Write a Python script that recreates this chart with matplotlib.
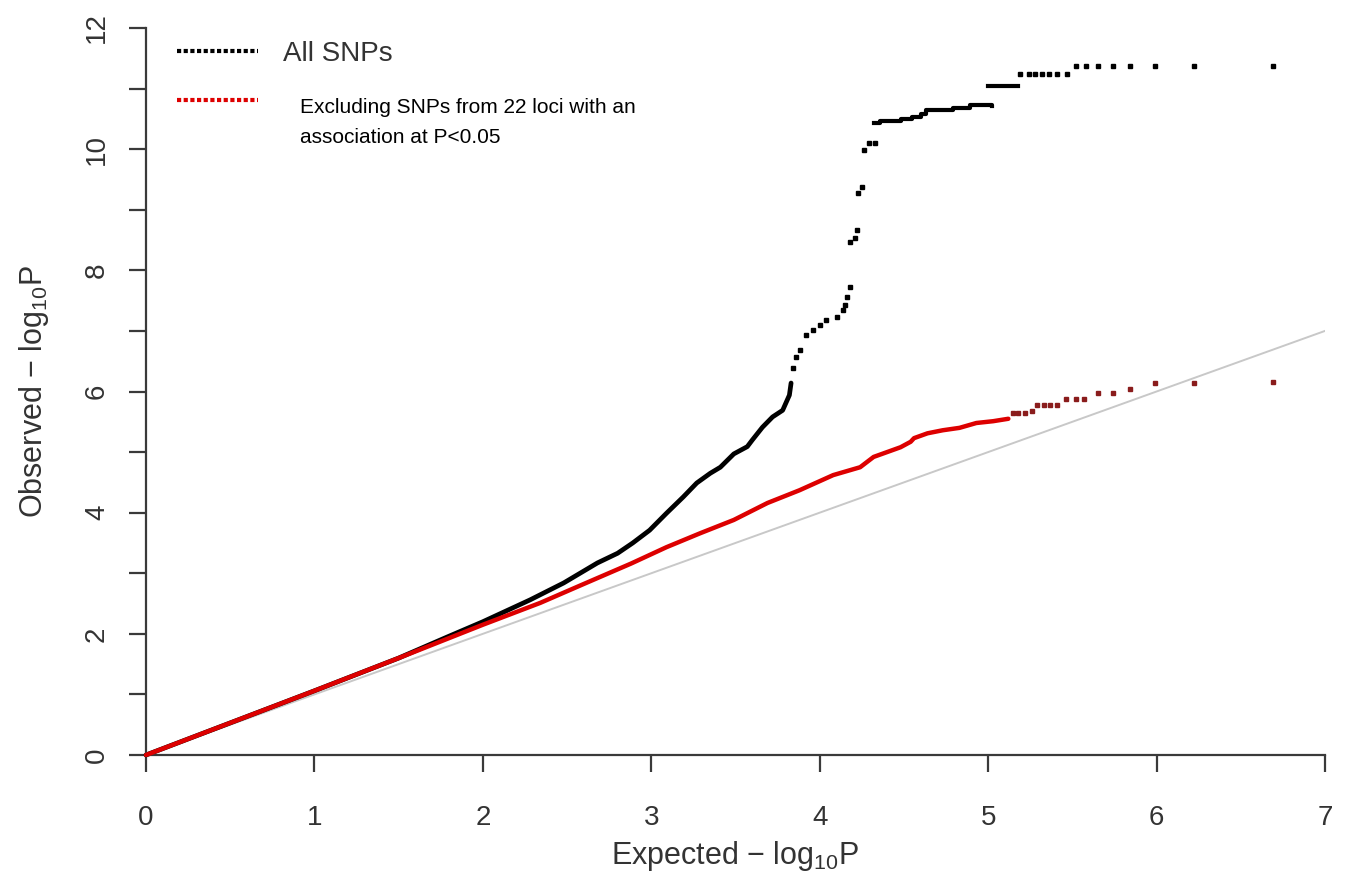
# QQ plot of observed vs expected -log10 P
# Run: python3 plot.py

import matplotlib
matplotlib.use("Agg")
import matplotlib.pyplot as plt

plt.rcParams["font.family"] = ["Liberation Sans", "DejaVu Sans"]
plt.rcParams["mathtext.fontset"] = "custom"
plt.rcParams["mathtext.rm"] = "Liberation Sans"

# All SNPs: dense part (reads as a thick line)
black_dense_x = [0, 0.5, 1.0, 1.5, 1.79, 2.0, 2.28, 2.48, 2.68, 2.80, 2.89, 2.99,
                 3.09, 3.19, 3.27, 3.35, 3.41, 3.49, 3.57, 3.60, 3.66, 3.72, 3.78,
                 3.82, 3.83]
black_dense_y = [0, 0.53, 1.06, 1.6, 1.95, 2.2, 2.56, 2.84, 3.17, 3.33, 3.50, 3.71,
                 3.99, 4.26, 4.49, 4.65, 4.75, 4.97, 5.09, 5.20, 5.41, 5.58, 5.69,
                 5.94, 6.14]
# All SNPs: sparse points on the steep rise
black_rise_x = [3.84, 3.86, 3.88, 3.92, 3.96, 4.00, 4.04, 4.10, 4.14, 4.15, 4.16,
                4.18, 4.18, 4.21, 4.22, 4.23, 4.25, 4.26, 4.29, 4.33]
black_rise_y = [6.39, 6.57, 6.69, 6.93, 7.02, 7.10, 7.18, 7.23, 7.35, 7.43, 7.56,
                7.73, 8.47, 8.53, 8.67, 9.28, 9.38, 9.99, 10.10, 10.10]
# All SNPs: plateau runs near the top
black_plateau_x = [4.32, 4.36, 4.48, 4.55, 4.60, 4.63, 4.79, 4.89, 5.02]
black_plateau_y = [10.43, 10.47, 10.50, 10.53, 10.58, 10.65, 10.68, 10.73, 10.72]
black_plateau2_x = [5.00, 5.18]
black_plateau2_y = [11.05, 11.05]
black_tail_x = [5.19, 5.24, 5.28, 5.32, 5.36, 5.41, 5.47, 5.52, 5.58, 5.65, 5.74,
                5.84, 5.99, 6.22, 6.69]
black_tail_y = [11.24, 11.24, 11.24, 11.24, 11.24, 11.24, 11.24, 11.37, 11.37,
                11.37, 11.37, 11.37, 11.37, 11.37, 11.37]

# Excluding SNPs from 22 loci
red_dense_x = [0, 0.5, 1.0, 1.5, 2.0, 2.34, 2.58, 2.88, 3.09, 3.29, 3.49, 3.69,
               3.88, 4.08, 4.24, 4.32, 4.40, 4.48, 4.54, 4.56, 4.64, 4.73, 4.83,
               4.93, 5.03, 5.12]
red_dense_y = [0, 0.53, 1.06, 1.6, 2.15, 2.51, 2.8, 3.16, 3.43, 3.66, 3.88, 4.16,
               4.37, 4.62, 4.75, 4.92, 5.0, 5.08, 5.17, 5.23, 5.31, 5.36, 5.40,
               5.48, 5.51, 5.55]
red_tail_x = [5.15, 5.18, 5.22, 5.26, 5.29, 5.33, 5.37, 5.41, 5.46, 5.52, 5.57,
              5.65, 5.74, 5.84, 5.99, 6.22, 6.69]
red_tail_y = [5.64, 5.64, 5.64, 5.68, 5.77, 5.77, 5.77, 5.77, 5.88, 5.88, 5.88,
              5.97, 5.97, 6.04, 6.14, 6.14, 6.16]

x_ticks = [0, 1, 2, 3, 4, 5, 6, 7]
y_ticks = [0, 1, 2, 3, 4, 5, 6, 7, 8, 9, 10, 11, 12]
y_labels = ["0", "", "2", "", "4", "", "6", "", "8", "", "10", "", "12"]

axis_col = "#3a3a3a"
red = "#dd0000"

fig = plt.figure(figsize=(13.46, 8.86), dpi=100)
ax = fig.add_axes([146 / 1346, 131 / 886, 1179 / 1346, 727 / 886])
ax.set_xlim(0, 7)
ax.set_ylim(0, 12)

# null line
ax.plot([0, 7], [0, 7], color="#c8c8c8", linewidth=1.4, zorder=1)

# all SNPs
ax.plot(black_dense_x, black_dense_y, color="black", linewidth=3.4,
        solid_capstyle="round", zorder=2, clip_on=False)
ax.plot(black_rise_x, black_rise_y, "s", color="black", markersize=3.3, zorder=2)
ax.plot(black_plateau_x, black_plateau_y, color="black", linewidth=3.0,
        drawstyle="steps-post", zorder=2)
ax.plot(black_plateau2_x, black_plateau2_y, color="black", linewidth=3.0, zorder=2)
ax.plot(black_tail_x, black_tail_y, "s", color="black", markersize=3.0, zorder=2)

# excluding the 22 loci
ax.plot(red_dense_x, red_dense_y, color=red, linewidth=3.2,
        solid_capstyle="round", zorder=3, clip_on=False)
ax.plot(red_tail_x, red_tail_y, "s", color="#8a1c1c", markersize=3.0, zorder=3)

# axes in R style
for side in ["top", "right"]:
    ax.spines[side].set_visible(False)
for side in ["left", "bottom"]:
    ax.spines[side].set_color(axis_col)
    ax.spines[side].set_linewidth(1.6)

ax.set_xticks(x_ticks)
ax.set_yticks(y_ticks)
ax.set_yticklabels(y_labels, rotation=90, va="center")
ax.tick_params(axis="both", direction="out", length=12, width=1.6,
               color=axis_col, labelcolor="#333333", labelsize=20)
ax.tick_params(axis="x", pad=24)
ax.tick_params(axis="y", pad=14)

ax.set_xlabel(r"Expected $-$ log$_{10}$P", fontsize=22, color="#333333",
              labelpad=6)
ax.set_ylabel(r"Observed $-$ log$_{10}$P", fontsize=22, color="#333333",
              labelpad=24)

# legend drawn by hand to keep the original spacing
ax.plot([0.026, 0.095], [0.968, 0.968], transform=ax.transAxes, color="black",
        linewidth=3, linestyle=(0, (1, 0.6)), clip_on=False)
ax.plot([0.026, 0.095], [0.901, 0.901], transform=ax.transAxes, color=red,
        linewidth=3, linestyle=(0, (1, 0.6)), clip_on=False)
ax.text(0.116, 0.964, "All SNPs", transform=ax.transAxes, fontsize=20,
        color="#333333", va="center", ha="left")
ax.text(0.131, 0.890, "Excluding SNPs from 22 loci with an",
        transform=ax.transAxes, fontsize=15, color="black", va="center", ha="left")
ax.text(0.131, 0.849, "association at P<0.05",
        transform=ax.transAxes, fontsize=15, color="black", va="center", ha="left")

fig.savefig("out.png", dpi=100)
print("saved out.png")
